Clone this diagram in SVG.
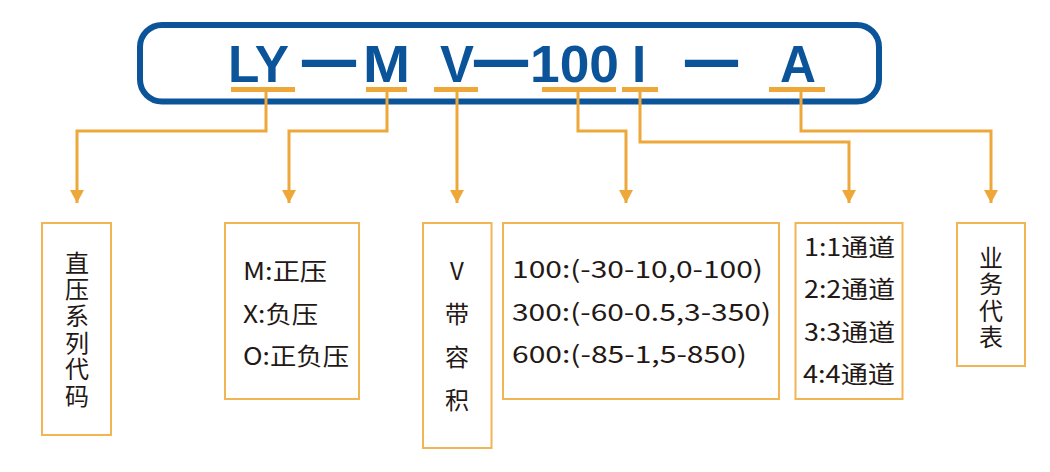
<svg xmlns="http://www.w3.org/2000/svg" width="1050" height="472" viewBox="0 0 1050 472">
<style>
.t{font-family:"Liberation Sans",Arial,sans-serif;font-weight:bold;font-size:51px;fill:#0b5499}
.d{font-family:"Liberation Sans",Arial,sans-serif;font-weight:bold;font-size:52px;fill:#0b5499;stroke:#0b5499;stroke-width:2.2px}
.u{fill:#eea83a}
.c{fill:none;stroke:#eea83a;stroke-width:3}
.b{fill:#ffffff;stroke:#f2b555;stroke-width:2}
.x{font-family:"Noto Sans CJK SC","Noto Sans",sans-serif;font-size:24px;fill:#231815}
.v{writing-mode:vertical-rl;text-orientation:upright}
</style>
<defs>
<marker id="ah" markerUnits="userSpaceOnUse" markerWidth="16" markerHeight="14" viewBox="0 0 16 14" refX="8" refY="13" orient="0">
<path d="M1,0 L15,0 L8,13 Z" fill="#eea83a"/>
</marker>
</defs>
<g id="header">
<rect x="140" y="25" width="739" height="76.5" rx="22" ry="22" fill="#ffffff" stroke="#0b5499" stroke-width="6"/>
<text class="t" x="228" y="82" textLength="61" lengthAdjust="spacingAndGlyphs">LY</text>
<text class="d" x="303" y="77" textLength="52" lengthAdjust="spacingAndGlyphs">—</text>
<text class="t" x="363" y="82" textLength="47" lengthAdjust="spacingAndGlyphs">M</text>
<text class="t" x="440" y="82" textLength="34" lengthAdjust="spacingAndGlyphs">V</text>
<text class="d" x="475" y="77" textLength="52" lengthAdjust="spacingAndGlyphs">—</text>
<text class="t" x="530" y="82" textLength="89" lengthAdjust="spacingAndGlyphs">100</text>
<text class="t" x="632" y="82">I</text>
<text class="d" x="686" y="77" textLength="51" lengthAdjust="spacingAndGlyphs">—</text>
<text class="t" x="780" y="82" textLength="36" lengthAdjust="spacingAndGlyphs">A</text>
<rect class="u" x="231" y="87" width="64" height="5"/>
<rect class="u" x="366" y="87" width="41" height="5"/>
<rect class="u" x="434" y="87" width="44" height="5"/>
<rect class="u" x="542" y="87" width="74" height="5"/>
<rect class="u" x="622" y="87" width="36" height="5"/>
<rect class="u" x="769" y="87" width="56" height="5"/>
</g>
<g id="connectors">
<polyline class="c" points="266,92 266,131 77,131 77,203" marker-end="url(#ah)"/>
<polyline class="c" points="387,92 387,131 289,131 289,203" marker-end="url(#ah)"/>
<polyline class="c" points="457,92 457,203" marker-end="url(#ah)"/>
<polyline class="c" points="578,92 578,131 626,131 626,203" marker-end="url(#ah)"/>
<polyline class="c" points="640,92 640,142 849,142 849,203" marker-end="url(#ah)"/>
<polyline class="c" points="801,92 801,131 991,131 991,203" marker-end="url(#ah)"/>
</g>
<g id="node-series">
<rect class="b" x="42" y="223" width="69" height="212"/>
<text class="x v" x="77" y="250.5" letter-spacing="2.7">直压系列代码</text>
</g>
<g id="node-pressure">
<rect class="b" x="225" y="223" width="134" height="176"/>
<text class="x" x="243" y="280" textLength="84" lengthAdjust="spacingAndGlyphs">M:正压</text>
<text class="x" x="243" y="322.7" textLength="75" lengthAdjust="spacingAndGlyphs">X:负压</text>
<text class="x" x="243" y="365" textLength="106" lengthAdjust="spacingAndGlyphs">O:正负压</text>
</g>
<g id="node-volume">
<rect class="b" x="423" y="223" width="68.5" height="225"/>
<text class="x v" x="457" y="259" letter-spacing="19">V带容积</text>
</g>
<g id="node-range">
<rect class="b" x="503" y="223" width="276" height="176"/>
<text class="x" x="512" y="278.3" textLength="251" lengthAdjust="spacingAndGlyphs">100:(-30-10,0-100)</text>
<text class="x" x="512" y="320.7" textLength="259" lengthAdjust="spacingAndGlyphs">300:(-60-0.5,3-350)</text>
<text class="x" x="512" y="362.7" textLength="235" lengthAdjust="spacingAndGlyphs">600:(-85-1,5-850)</text>
</g>
<g id="node-channel">
<rect class="b" x="795.5" y="223" width="107" height="176"/>
<text class="x" x="804" y="256" font-size="25" textLength="91" lengthAdjust="spacingAndGlyphs">1:1通道</text>
<text class="x" x="804" y="298.3" font-size="25" textLength="91" lengthAdjust="spacingAndGlyphs">2:2通道</text>
<text class="x" x="804" y="340.7" font-size="25" textLength="91" lengthAdjust="spacingAndGlyphs">3:3通道</text>
<text class="x" x="803" y="383.3" font-size="25" textLength="92" lengthAdjust="spacingAndGlyphs">4:4通道</text>
</g>
<g id="node-business">
<rect class="b" x="957" y="223" width="68" height="143"/>
<text class="x v" x="991" y="245.5" letter-spacing="2.5">业务代表</text>
</g>
</svg>
